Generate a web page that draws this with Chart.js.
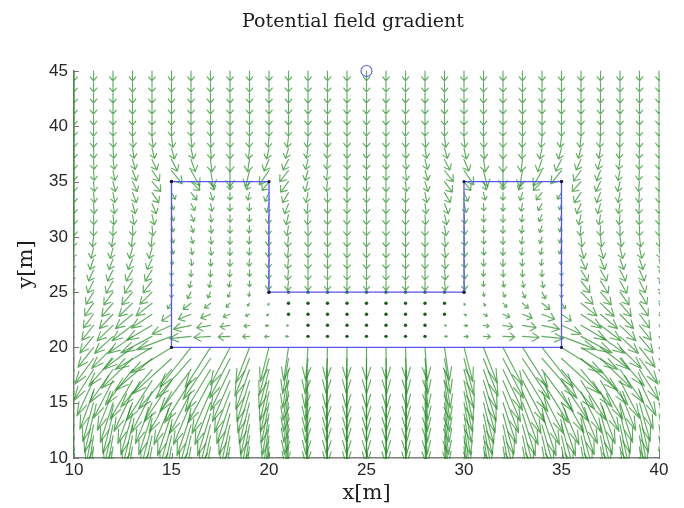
<!DOCTYPE html>
<html><head><meta charset="utf-8">
<script src="https://cdn.jsdelivr.net/npm/chart.js@4.4.1/dist/chart.umd.min.js"></script>
<style>html,body{margin:0;padding:0;background:#fff;}canvas{display:block;background:#fff;}</style>
</head><body>
<canvas id="c" width="684" height="508"></canvas>
<script>
// ---- data ----
const X_GRID = [10,11,12,13,14,15,16,17,18,19,20,21,22,23,24,25,26,27,28,29,30,31,32,33,34,35,36,37,38,39,40];
const Y_GRID = [45,44,43,42,41,40,39,38,37,36,35,34,33,32,31,30,29,28,27,26,25,24,23,22,21,20,19,18,17,16,15,14,13,12,11,10];
const X_TICKS = [10,15,20,25,30,35,40];
const Y_TICKS = [10,15,20,25,30,35,40,45];
const OBSTACLE_X = [15,20,20,30,30,35,35,15,15];
const OBSTACLE_Y = [35,35,25,25,35,35,20,20,35];
const START_X = [25];
const START_Y = [45];
const TITLE_TEXT = 'Potential field gradient';

// x-component of each arrow, one row per y in Y_GRID, one column per x in X_GRID
const U_ROWS = [
[0,0,0,0,0,0,0,0,0,0,0,0,0,0,0,0,0,0,0,0,0,0,0,0,0,0,0,0,0,0,0],
[0,0,0,0,0,0,0,0,0,0,0,0,0,0,0,0,0,0,0,0,0,0,0,0,0,0,0,0,0,0,0],
[0,0,0,0,0,0,0,0,0,0,0,0,0,0,0,0,0,0,0,0,0,0,0,0,0,0,0,0,0,0,0],
[0,0,0,0,0,0,0,0,0,0,0,0,0,0,0,0,0,0,0,0,0,0,0,0,0,0,0,0,0,0,0],
[0,0,0,0,0,0,0,0,0,0,0,0,0,0,0,0,0,0,0,0,0,0,0,0,0,0,0,0,0,0,0],
[0,0,0,0,0,0,0,0,0,0,0,0,0,0,0,0,0,0,0,0,0,0,0,0,0,0,0,0,0,0,0],
[0,0,0.02,0.04,0.06,0.07,0.05,0.02,0,-0.02,-0.05,-0.07,-0.04,-0.01,0,0,0,0.01,0.04,0.07,0.05,0.02,0,-0.02,-0.05,-0.07,-0.06,-0.04,-0.02,0,0],
[0,0.02,0.04,0.08,0.13,0.15,0.12,0.04,0,-0.05,-0.12,-0.15,-0.08,-0.03,0,0,0,0.03,0.08,0.15,0.12,0.05,0,-0.04,-0.12,-0.15,-0.13,-0.08,-0.04,-0.02,0],
[0,0.03,0.07,0.14,0.25,0.3,0.22,0.08,0,-0.1,-0.25,-0.28,-0.12,-0.04,0,0,0,0.04,0.12,0.28,0.25,0.1,0,-0.08,-0.22,-0.3,-0.25,-0.14,-0.07,-0.03,0],
[0,0.04,0.1,0.2,0.38,0.55,0.45,0.15,0,-0.2,-0.5,-0.45,-0.15,-0.05,0,0,0,0.05,0.15,0.45,0.5,0.2,0,-0.15,-0.45,-0.55,-0.38,-0.2,-0.1,-0.04,0],
[0,0.05,0.12,0.24,0.45,0,0.45,0.2,0,-0.15,-0.35,-0.4,-0.15,-0.05,0,0,0,0.05,0.15,0.4,0.35,0.15,0,-0.2,-0.45,0,-0.45,-0.24,-0.12,-0.05,0],
[0,0.05,0.1,0.2,0.35,0.2,0.3,0.12,0,-0.08,-0.2,-0.3,-0.1,0,0,0,0,0,0.1,0.3,0.2,0.08,0,-0.12,-0.3,-0.2,-0.35,-0.2,-0.1,-0.05,0],
[0,0.04,0.08,0.14,0.22,0.1,0.2,0.08,0,-0.02,-0.12,-0.2,-0.06,0,0,0,0,0,0.06,0.2,0.12,0.02,0,-0.08,-0.2,-0.1,-0.22,-0.14,-0.08,-0.04,0],
[0,0.02,0.05,0.08,0.12,0.1,0.15,0.05,0,-0.02,-0.05,-0.12,-0.03,0,0,0,0,0,0.03,0.12,0.05,0.02,0,-0.05,-0.15,-0.1,-0.12,-0.08,-0.05,-0.02,0],
[0,0,0,0.02,0.05,0.1,0.12,0.05,0,-0.02,-0.05,-0.08,0,0,0,0,0,0,0,0.08,0.05,0.02,0,-0.05,-0.12,-0.1,-0.05,-0.02,0,0,0],
[-0.05,-0.06,-0.07,-0.06,-0.05,0.1,0.1,0.05,0,-0.02,-0.05,-0.05,0,0,0,0,0,0,0,0.05,0.05,0.02,0,-0.05,-0.1,-0.1,0.05,0.06,0.07,0.06,0.05],
[-0.1,-0.12,-0.14,-0.15,-0.15,0.1,0.07,0.05,0,-0.02,-0.05,-0.05,0,0,0,0,0,0,0,0.05,0.05,0.02,0,-0.05,-0.07,-0.1,0.15,0.15,0.14,0.12,0.1],
[-0.15,-0.18,-0.2,-0.22,-0.25,0.05,0.04,0.02,0,-0.02,-0.05,-0.05,0,0,0,0,0,0,0,0.05,0.05,0.02,0,-0.02,-0.04,-0.05,0.25,0.22,0.2,0.18,0.15],
[-0.2,-0.25,-0.28,-0.32,-0.35,0,0,0,-0.02,0,-0.05,-0.05,0,0,0,0,0,0,0,0.05,0.05,0,0.02,0,0,0,0.35,0.32,0.28,0.25,0.2],
[-0.25,-0.3,-0.35,-0.4,-0.45,0,-0.08,-0.06,-0.05,0,-0.05,-0.05,0,0,0,0,0,0,0,0.05,0.05,0,0.05,0.06,0.08,0,0.45,0.4,0.35,0.3,0.25],
[-0.3,-0.38,-0.47,-0.55,-0.62,0,-0.18,-0.14,-0.1,-0.03,0,0,0,0,0,0,0,0,0,0,0,0.03,0.1,0.14,0.18,0,0.62,0.55,0.47,0.38,0.3],
[-0.35,-0.45,-0.58,-0.7,-0.82,-0.2,-0.4,-0.3,-0.2,-0.1,-0.05,0,0,0,0,0,0,0,0,0,0.05,0.1,0.2,0.3,0.4,0.2,0.82,0.7,0.58,0.45,0.35],
[-0.4,-0.52,-0.7,-0.88,-1.05,-0.5,-0.65,-0.5,-0.35,-0.2,-0.12,0,0,0,0,0,0,0,0,0,0.12,0.2,0.35,0.5,0.65,0.5,1.05,0.88,0.7,0.52,0.4],
[-0.45,-0.6,-0.82,-1.05,-1.3,-1,-0.9,-0.7,-0.5,-0.28,-0.18,-0.1,0,0,0,0,0,0,0,0.1,0.18,0.28,0.5,0.7,0.9,1,1.3,1.05,0.82,0.6,0.45],
[-0.5,-0.7,-0.95,-1.25,-1.6,-1.8,-1.1,-0.85,-0.6,-0.35,-0.22,-0.14,0,0,0,0,0,0,0,0.14,0.22,0.35,0.6,0.85,1.1,1.8,1.6,1.25,0.95,0.7,0.5],
[-0.6,-0.8,-1.1,-1.5,-1.9,-2.1,-1.6,-1.3,-1,-0.7,-0.45,-0.25,-0.12,-0.06,-0.02,0,0.02,0.06,0.12,0.25,0.45,0.7,1,1.3,1.6,2.1,1.9,1.5,1.1,0.8,0.6],
[-0.75,-0.95,-1.25,-1.6,-1.9,-2,-1.8,-1.4,-1.05,-0.75,-0.5,-0.3,-0.15,-0.07,-0.03,0,0.03,0.07,0.15,0.3,0.5,0.75,1.05,1.4,1.8,2,1.9,1.6,1.25,0.95,0.75],
[-0.8,-1,-1.2,-1.4,-1.6,-1.7,-1.6,-1.3,-1,-0.7,-0.5,-0.3,-0.15,-0.07,-0.03,0,0.03,0.07,0.15,0.3,0.5,0.7,1,1.3,1.6,1.7,1.6,1.4,1.2,1,0.8],
[-0.7,-0.85,-1,-1.15,-1.3,-1.4,-1.35,-1.15,-0.9,-0.65,-0.45,-0.28,-0.14,-0.06,-0.02,0,0.02,0.06,0.14,0.28,0.45,0.65,0.9,1.15,1.35,1.4,1.3,1.15,1,0.85,0.7],
[-0.55,-0.7,-0.8,-0.95,-1.05,-1.15,-1.1,-0.95,-0.8,-0.6,-0.42,-0.26,-0.13,-0.06,-0.02,0,0.02,0.06,0.13,0.26,0.42,0.6,0.8,0.95,1.1,1.15,1.05,0.95,0.8,0.7,0.55],
[-0.45,-0.55,-0.65,-0.75,-0.85,-0.9,-0.9,-0.8,-0.68,-0.52,-0.38,-0.24,-0.12,-0.05,-0.02,0,0.02,0.05,0.12,0.24,0.38,0.52,0.68,0.8,0.9,0.9,0.85,0.75,0.65,0.55,0.45],
[-0.35,-0.45,-0.52,-0.6,-0.68,-0.72,-0.72,-0.66,-0.56,-0.45,-0.33,-0.21,-0.11,-0.05,-0.02,0,0.02,0.05,0.11,0.21,0.33,0.45,0.56,0.66,0.72,0.72,0.68,0.6,0.52,0.45,0.35],
[-0.3,-0.37,-0.43,-0.5,-0.55,-0.58,-0.58,-0.54,-0.47,-0.38,-0.28,-0.18,-0.1,-0.04,-0.02,0,0.02,0.04,0.1,0.18,0.28,0.38,0.47,0.54,0.58,0.58,0.55,0.5,0.43,0.37,0.3],
[-0.25,-0.3,-0.36,-0.41,-0.45,-0.48,-0.48,-0.45,-0.4,-0.32,-0.24,-0.16,-0.09,-0.04,-0.01,0,0.01,0.04,0.09,0.16,0.24,0.32,0.4,0.45,0.48,0.48,0.45,0.41,0.36,0.3,0.25],
[-0.2,-0.25,-0.3,-0.34,-0.38,-0.4,-0.4,-0.38,-0.34,-0.28,-0.21,-0.14,-0.08,-0.03,-0.01,0,0.01,0.03,0.08,0.14,0.21,0.28,0.34,0.38,0.4,0.4,0.38,0.34,0.3,0.25,0.2],
[-0.17,-0.21,-0.25,-0.29,-0.32,-0.34,-0.34,-0.32,-0.29,-0.24,-0.18,-0.12,-0.07,-0.03,-0.01,0,0.01,0.03,0.07,0.12,0.18,0.24,0.29,0.32,0.34,0.34,0.32,0.29,0.25,0.21,0.17]
];

// y-component of each arrow
const V_ROWS = [
[-0.9,-0.9,-0.9,-0.9,-0.9,-0.9,-0.9,-0.9,-0.9,-0.9,-0.9,-0.9,-0.9,-0.9,-0.9,-0.9,-0.9,-0.9,-0.9,-0.9,-0.9,-0.9,-0.9,-0.9,-0.9,-0.9,-0.9,-0.9,-0.9,-0.9,-0.9],
[-0.9,-0.9,-0.9,-0.9,-0.9,-0.9,-0.9,-0.9,-0.9,-0.9,-0.9,-0.9,-0.9,-0.9,-0.9,-0.9,-0.9,-0.9,-0.9,-0.9,-0.9,-0.9,-0.9,-0.9,-0.9,-0.9,-0.9,-0.9,-0.9,-0.9,-0.9],
[-0.9,-0.9,-0.9,-0.9,-0.9,-0.9,-0.9,-0.9,-0.9,-0.9,-0.9,-0.9,-0.9,-0.9,-0.9,-0.9,-0.9,-0.9,-0.9,-0.9,-0.9,-0.9,-0.9,-0.9,-0.9,-0.9,-0.9,-0.9,-0.9,-0.9,-0.9],
[-0.9,-0.9,-0.9,-0.9,-0.9,-0.9,-0.9,-0.9,-0.9,-0.9,-0.9,-0.9,-0.9,-0.9,-0.9,-0.9,-0.9,-0.9,-0.9,-0.9,-0.9,-0.9,-0.9,-0.9,-0.9,-0.9,-0.9,-0.9,-0.9,-0.9,-0.9],
[-0.9,-0.9,-0.9,-0.9,-0.9,-0.9,-0.9,-0.9,-0.9,-0.9,-0.9,-0.9,-0.9,-0.9,-0.9,-0.9,-0.9,-0.9,-0.9,-0.9,-0.9,-0.9,-0.9,-0.9,-0.9,-0.9,-0.9,-0.9,-0.9,-0.9,-0.9],
[-0.9,-0.9,-0.9,-0.9,-0.9,-0.9,-0.9,-0.9,-0.9,-0.9,-0.9,-0.9,-0.9,-0.9,-0.9,-0.9,-0.9,-0.9,-0.9,-0.9,-0.9,-0.9,-0.9,-0.9,-0.9,-0.9,-0.9,-0.9,-0.9,-0.9,-0.9],
[-0.9,-0.9,-0.9,-0.9,-0.9,-0.9,-0.9,-0.9,-0.9,-0.9,-0.9,-0.9,-0.9,-0.9,-0.9,-0.9,-0.9,-0.9,-0.9,-0.9,-0.9,-0.9,-0.9,-0.9,-0.9,-0.9,-0.9,-0.9,-0.9,-0.9,-0.9],
[-0.9,-0.9,-0.9,-0.9,-0.9,-0.95,-0.95,-0.95,-0.95,-0.95,-0.95,-0.9,-0.9,-0.9,-0.9,-0.9,-0.9,-0.9,-0.9,-0.9,-0.95,-0.95,-0.95,-0.95,-0.95,-0.95,-0.9,-0.9,-0.9,-0.9,-0.9],
[-0.9,-0.9,-0.9,-0.9,-0.95,-1.05,-1.1,-1.1,-1.1,-1.1,-1.05,-0.95,-0.9,-0.9,-0.9,-0.9,-0.9,-0.9,-0.9,-0.95,-1.05,-1.1,-1.1,-1.1,-1.1,-1.05,-0.95,-0.9,-0.9,-0.9,-0.9],
[-0.9,-0.9,-0.9,-0.92,-0.95,-1.2,-1.4,-1.5,-1.5,-1.45,-1.3,-1,-0.9,-0.9,-0.9,-0.9,-0.9,-0.9,-0.9,-1,-1.3,-1.45,-1.5,-1.5,-1.4,-1.2,-0.95,-0.92,-0.9,-0.9,-0.9],
[-0.9,-0.9,-0.9,-0.9,-0.9,0,-0.8,-0.75,-0.75,-0.75,-0.8,-0.95,-0.9,-0.9,-0.9,-0.9,-0.9,-0.9,-0.9,-0.95,-0.8,-0.75,-0.75,-0.75,-0.8,0,-0.9,-0.9,-0.9,-0.9,-0.9],
[-0.9,-0.9,-0.9,-0.9,-0.9,-0.6,-0.65,-0.7,-0.68,-0.68,-0.8,-0.9,-0.9,-0.9,-0.9,-0.9,-0.9,-0.9,-0.9,-0.9,-0.8,-0.68,-0.68,-0.7,-0.65,-0.6,-0.9,-0.9,-0.9,-0.9,-0.9],
[-0.9,-0.9,-0.9,-0.9,-0.9,-0.55,-0.62,-0.68,-0.68,-0.66,-0.8,-0.9,-0.9,-0.9,-0.9,-0.9,-0.9,-0.9,-0.9,-0.9,-0.8,-0.66,-0.68,-0.68,-0.62,-0.55,-0.9,-0.9,-0.9,-0.9,-0.9],
[-0.9,-0.9,-0.9,-0.9,-0.9,-0.55,-0.6,-0.66,-0.68,-0.66,-0.8,-0.9,-0.9,-0.9,-0.9,-0.9,-0.9,-0.9,-0.9,-0.9,-0.8,-0.66,-0.68,-0.66,-0.6,-0.55,-0.9,-0.9,-0.9,-0.9,-0.9],
[-0.9,-0.9,-0.9,-0.9,-0.9,-0.55,-0.6,-0.66,-0.68,-0.66,-0.8,-0.9,-0.9,-0.9,-0.9,-0.9,-0.9,-0.9,-0.9,-0.9,-0.8,-0.66,-0.68,-0.66,-0.6,-0.55,-0.9,-0.9,-0.9,-0.9,-0.9],
[-0.9,-0.9,-0.9,-0.9,-0.9,-0.55,-0.6,-0.66,-0.68,-0.66,-0.8,-0.9,-0.9,-0.9,-0.9,-0.9,-0.9,-0.9,-0.9,-0.9,-0.8,-0.66,-0.68,-0.66,-0.6,-0.55,-0.9,-0.9,-0.9,-0.9,-0.9],
[-0.95,-0.95,-0.95,-0.95,-0.95,-0.55,-0.6,-0.66,-0.68,-0.66,-0.8,-0.9,-0.9,-0.9,-0.9,-0.9,-0.9,-0.9,-0.9,-0.9,-0.8,-0.66,-0.68,-0.66,-0.6,-0.55,-0.95,-0.95,-0.95,-0.95,-0.95],
[-0.95,-0.95,-0.95,-0.95,-0.95,-0.5,-0.6,-0.64,-0.68,-0.66,-0.8,-0.9,-0.9,-0.9,-0.9,-0.9,-0.9,-0.9,-0.9,-0.9,-0.8,-0.66,-0.68,-0.64,-0.6,-0.5,-0.95,-0.95,-0.95,-0.95,-0.95],
[-1,-1,-1,-1,-1,-0.5,-0.6,-0.62,-0.62,-0.58,-0.8,-0.9,-0.9,-0.9,-0.9,-0.9,-0.9,-0.9,-0.9,-0.9,-0.8,-0.58,-0.62,-0.62,-0.6,-0.5,-1,-1,-1,-1,-1],
[-1,-1.05,-1.1,-1.1,-1.05,-0.5,-0.6,-0.58,-0.55,-0.5,-0.8,-0.85,-0.85,-0.85,-0.85,-0.85,-0.85,-0.85,-0.85,-0.85,-0.8,-0.5,-0.55,-0.58,-0.6,-0.5,-1.05,-1.1,-1.1,-1.05,-1],
[-1.05,-1.1,-1.15,-1.15,-1.1,-0.5,-0.6,-0.52,-0.45,-0.38,0,0,0,0,0,0,0,0,0,0,0,-0.38,-0.45,-0.52,-0.6,-0.5,-1.1,-1.15,-1.15,-1.1,-1.05],
[-1.1,-1.15,-1.2,-1.2,-1.15,-0.5,-0.55,-0.45,-0.35,-0.25,-0.18,0,0,0,0,0,0,0,0,0,-0.18,-0.25,-0.35,-0.45,-0.55,-0.5,-1.15,-1.2,-1.2,-1.15,-1.1],
[-1.2,-1.25,-1.3,-1.3,-1.25,-0.6,-0.45,-0.35,-0.25,-0.15,-0.1,0,0,0,0,0,0,0,0,0,-0.1,-0.15,-0.25,-0.35,-0.45,-0.6,-1.25,-1.3,-1.3,-1.25,-1.2],
[-1.3,-1.35,-1.4,-1.4,-1.35,-0.8,-0.35,-0.22,-0.15,-0.08,-0.05,-0.02,0,0,0,0,0,0,0,-0.02,-0.05,-0.08,-0.15,-0.22,-0.35,-0.8,-1.35,-1.4,-1.4,-1.35,-1.3],
[-1.45,-1.5,-1.55,-1.55,-1.5,-1.2,-0.2,-0.1,-0.05,-0.03,-0.02,0,0,0,0,0,0,0,0,0,-0.02,-0.03,-0.05,-0.1,-0.2,-1.2,-1.5,-1.55,-1.55,-1.5,-1.45],
[-1.7,-1.8,-1.9,-2,-2,-2.3,-3.6,-3.6,-3.4,-3.2,-3.1,-3,-3,-3,-3,-3,-3,-3,-3,-3,-3.1,-3.2,-3.4,-3.6,-3.6,-2.3,-2,-2,-1.9,-1.8,-1.7],
[-2.1,-2.3,-2.5,-2.7,-2.9,-3.2,-3.6,-3.7,-3.6,-3.4,-3.3,-3.2,-3.2,-3.2,-3.2,-3.2,-3.2,-3.2,-3.2,-3.2,-3.3,-3.4,-3.6,-3.7,-3.6,-3.2,-2.9,-2.7,-2.5,-2.3,-2.1],
[-2.6,-2.8,-3,-3.2,-3.4,-3.6,-3.8,-3.8,-3.7,-3.6,-3.5,-3.5,-3.5,-3.5,-3.5,-3.5,-3.5,-3.5,-3.5,-3.5,-3.5,-3.6,-3.7,-3.8,-3.8,-3.6,-3.4,-3.2,-3,-2.8,-2.6],
[-3,-3.2,-3.4,-3.5,-3.6,-3.7,-3.8,-3.8,-3.7,-3.7,-3.6,-3.6,-3.6,-3.6,-3.6,-3.6,-3.6,-3.6,-3.6,-3.6,-3.6,-3.7,-3.7,-3.8,-3.8,-3.7,-3.6,-3.5,-3.4,-3.2,-3],
[-3.2,-3.4,-3.5,-3.6,-3.7,-3.7,-3.8,-3.8,-3.7,-3.7,-3.6,-3.6,-3.6,-3.6,-3.6,-3.6,-3.6,-3.6,-3.6,-3.6,-3.6,-3.7,-3.7,-3.8,-3.8,-3.7,-3.7,-3.6,-3.5,-3.4,-3.2],
[-3.3,-3.5,-3.6,-3.7,-3.7,-3.8,-3.8,-3.8,-3.7,-3.7,-3.6,-3.6,-3.6,-3.6,-3.6,-3.6,-3.6,-3.6,-3.6,-3.6,-3.6,-3.7,-3.7,-3.8,-3.8,-3.8,-3.7,-3.7,-3.6,-3.5,-3.3],
[-3.4,-3.5,-3.6,-3.7,-3.7,-3.8,-3.8,-3.8,-3.7,-3.7,-3.7,-3.7,-3.7,-3.7,-3.7,-3.7,-3.7,-3.7,-3.7,-3.7,-3.7,-3.7,-3.7,-3.8,-3.8,-3.8,-3.7,-3.7,-3.6,-3.5,-3.4],
[-3.4,-3.5,-3.6,-3.7,-3.7,-3.7,-3.7,-3.7,-3.7,-3.7,-3.7,-3.7,-3.7,-3.7,-3.7,-3.7,-3.7,-3.7,-3.7,-3.7,-3.7,-3.7,-3.7,-3.7,-3.7,-3.7,-3.7,-3.7,-3.6,-3.5,-3.4],
[-3.4,-3.5,-3.6,-3.7,-3.7,-3.7,-3.7,-3.7,-3.7,-3.7,-3.7,-3.7,-3.7,-3.7,-3.7,-3.7,-3.7,-3.7,-3.7,-3.7,-3.7,-3.7,-3.7,-3.7,-3.7,-3.7,-3.7,-3.7,-3.6,-3.5,-3.4],
[-3.4,-3.5,-3.6,-3.7,-3.7,-3.7,-3.7,-3.7,-3.7,-3.7,-3.7,-3.7,-3.7,-3.7,-3.7,-3.7,-3.7,-3.7,-3.7,-3.7,-3.7,-3.7,-3.7,-3.7,-3.7,-3.7,-3.7,-3.7,-3.6,-3.5,-3.4],
[-3.4,-3.5,-3.6,-3.7,-3.7,-3.7,-3.7,-3.7,-3.7,-3.7,-3.7,-3.7,-3.7,-3.7,-3.7,-3.7,-3.7,-3.7,-3.7,-3.7,-3.7,-3.7,-3.7,-3.7,-3.7,-3.7,-3.7,-3.7,-3.6,-3.5,-3.4]
];

// ---- build datasets from the arrays ----
const fieldPoints = [];
Y_GRID.forEach((y, r) => {
  X_GRID.forEach((x, c) => {
    fieldPoints.push({x: x, y: y, u: U_ROWS[r][c], v: V_ROWS[r][c]});
  });
});
const obstaclePoints = OBSTACLE_X.map((x, i) => ({x: x, y: OBSTACLE_Y[i]}));
const startPoints = START_X.map((x, i) => ({x: x, y: START_Y[i]}));

const ARROW_COLOR = 'rgba(38,138,38,0.72)';
const DOT_COLOR = '#1d5a1d';
const serif = "'DejaVu Serif', 'Liberation Serif', serif";

const quiverPlugin = {
  id: 'quiver',
  beforeDatasetsDraw(chart) {
    const ctx = chart.ctx, xs = chart.scales.x, ys = chart.scales.y, a = chart.chartArea;
    const meta = chart.getDatasetMeta(0);
    ctx.save();
    ctx.beginPath();
    ctx.rect(a.left - 1, a.top - 1, a.right - a.left + 2, a.bottom - a.top + 2);
    ctx.clip();
    ctx.lineWidth = 1.15;
    ctx.strokeStyle = ARROW_COLOR;
    ctx.lineCap = 'round';
    ctx.lineJoin = 'round';
    meta.data.forEach((el, i) => {
      const p = fieldPoints[i];
      if (p.u === undefined || p.v === undefined) return;
      const px = el.x, py = el.y;
      const tx = xs.getPixelForValue(p.x + p.u), ty = ys.getPixelForValue(p.y + p.v);
      const dx = tx - px, dy = ty - py;
      const L = Math.hypot(dx, dy);
      if (L < 0.6) {
        ctx.fillStyle = DOT_COLOR;
        ctx.beginPath(); ctx.arc(px, py, 1.7, 0, Math.PI * 2); ctx.fill();
        return;
      }
      const ux = dx / L, uy = dy / L;
      const hl = Math.min(0.4 * L, 14), hw = Math.min(0.33 * L, 4.2);
      const bx = tx - ux * hl, by = ty - uy * hl;
      ctx.beginPath();
      ctx.moveTo(px, py); ctx.lineTo(tx, ty);
      ctx.moveTo(bx - uy * hw, by + ux * hw); ctx.lineTo(tx, ty); ctx.lineTo(bx + uy * hw, by - ux * hw);
      ctx.stroke();
    });
    ctx.restore();
  },
  afterDraw(chart) {
    const ctx = chart.ctx, xs = chart.scales.x, ys = chart.scales.y, a = chart.chartArea;
    ctx.save();
    // inward tick marks (MATLAB style)
    ctx.strokeStyle = '#777';
    ctx.lineWidth = 1;
    ctx.beginPath();
    X_TICKS.forEach(t => { const x = Math.round(xs.getPixelForValue(t)) + 0.5; ctx.moveTo(x, a.bottom); ctx.lineTo(x, a.bottom - 5); });
    Y_TICKS.forEach(t => { const y = Math.round(ys.getPixelForValue(t)) + 0.5; ctx.moveTo(a.left, y); ctx.lineTo(a.left + 5, y); });
    ctx.stroke();
    // title
    ctx.fillStyle = '#1e1e1e';
    ctx.font = '19px ' + serif;
    ctx.textAlign = 'center';
    ctx.textBaseline = 'middle';
    ctx.fillText(TITLE_TEXT, 353, 22);
    ctx.restore();
  }
};

const tickFont = {family: "'Liberation Sans', Arial, sans-serif", size: 17};

new Chart(document.getElementById('c'), {
  type: 'scatter',
  data: {
    datasets: [
      {label: 'field', data: fieldPoints, pointRadius: 0, showLine: false},
      {label: 'obstacle', data: obstaclePoints, showLine: true, borderColor: '#5757f0', borderWidth: 1.3,
       pointRadius: 1.6, pointBackgroundColor: '#1a1a3a', pointBorderWidth: 0, fill: false, tension: 0},
      {label: 'start', data: startPoints, pointRadius: 5.5, pointBorderColor: '#5a5ae8', pointBorderWidth: 1.1,
       pointBackgroundColor: 'rgba(0,0,0,0)', clip: false}
    ]
  },
  options: {
    responsive: false, animation: false, devicePixelRatio: 1,
    layout: {padding: {left: 0, right: 25, top: 71, bottom: 0}},
    plugins: {
      legend: {display: false}, tooltip: {enabled: false}, title: {display: false}
    },
    scales: {
      x: {
        type: 'linear', min: 10, max: 40,
        afterBuildTicks: s => { s.ticks = X_TICKS.map(v => ({value: v})); },
        ticks: {font: tickFont, color: '#262626', padding: 2, maxRotation: 0, autoSkip: false},
        grid: {display: false, drawTicks: false},
        border: {display: true, color: '#7d7d7d', width: 1.5},
        title: {display: true, text: 'x[m]', color: '#1e1e1e', font: {family: serif, size: 21, weight: 'normal'}, padding: {top: 0, bottom: 2}},
        afterFit: s => { s.height = 50; }
      },
      y: {
        type: 'linear', min: 10, max: 45,
        afterBuildTicks: s => { s.ticks = Y_TICKS.map(v => ({value: v})); },
        ticks: {font: tickFont, color: '#262626', padding: 6, autoSkip: false},
        grid: {display: false, drawTicks: false},
        border: {display: true, color: '#7d7d7d', width: 1.5},
        title: {display: true, text: 'y[m]', color: '#1e1e1e', font: {family: serif, size: 21, weight: 'normal'}, padding: {top: 14, bottom: 4}},
        afterFit: s => { s.width = 74; }
      }
    }
  },
  plugins: [quiverPlugin]
});

U_ROWS.forEach((r, i) => { if (r.length !== X_GRID.length) setTimeout(() => { throw new Error('U row ' + i + ' has ' + r.length); }); });
V_ROWS.forEach((r, i) => { if (r.length !== X_GRID.length) setTimeout(() => { throw new Error('V row ' + i + ' has ' + r.length); }); });
</script>
</body></html>
